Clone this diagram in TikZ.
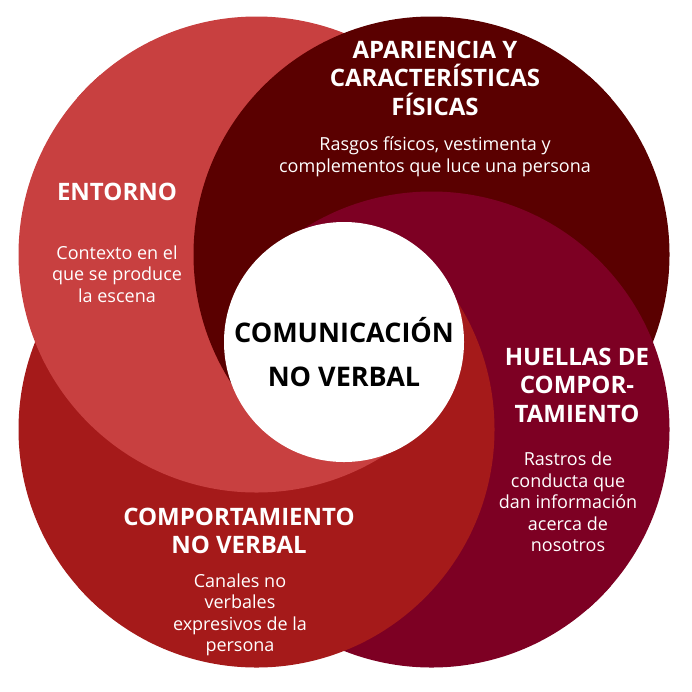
\documentclass[tikz,border=0pt]{standalone}
\usepackage{fontspec}
\setmainfont{Open Sans}
\definecolor{colE}{HTML}{C84040}
\definecolor{colA}{HTML}{5A0000}
\definecolor{colH}{HTML}{7D0023}
\definecolor{colC}{HTML}{A51A1A}
\newcommand\cirE{\fill[colE] (cE) circle[radius=238];}
\newcommand\cirA{\fill[colA] (cA) circle[radius=238];}
\newcommand\cirC{\fill[colC] (cC) circle[radius=238];}
\newcommand\cirH{\fill[colH] (cH) circle[radius=238];}
\tikzset{
  title/.style={text=white, align=center, font=\bfseries\fontsize{24}{28.5}\selectfont, inner sep=0pt},
  body/.style={text=white, align=center, font=\fontsize{18}{21.5}\selectfont, inner sep=0pt},
  core/.style={text=black, align=center, font=\bfseries\fontsize{27}{44}\selectfont, inner sep=0pt}
}
\begin{document}
\begin{tikzpicture}[x=1pt,y=-1pt]
\useasboundingbox (0,0) rectangle (692,691);
\fill[white] (0,0) rectangle (692,691);
\coordinate (O) at (344,342);
\coordinate (cE) at (256.5,254.5);
\coordinate (cA) at (431.5,254.5);
\coordinate (cC) at (256.5,429.5);
\coordinate (cH) at (431.5,429.5);
% top wedge: C, E, A, H
\begin{scope}
  \clip (O) -- (1450,-671) -- (-762,-671) -- cycle;
  \begin{scope}[transparency group]
  \cirC \cirE \cirA \cirH
  \end{scope}
\end{scope}
% right wedge: E, A, H, C
\begin{scope}
  \clip (O) -- (1357,-764) -- (1357,1448) -- cycle;
  \begin{scope}[transparency group]
  \cirE \cirA \cirH \cirC
  \end{scope}
\end{scope}
% bottom wedge: A, H, C, E
\begin{scope}
  \clip (O) -- (1450,1355) -- (-762,1355) -- cycle;
  \begin{scope}[transparency group]
  \cirA \cirH \cirC \cirE
  \end{scope}
\end{scope}
% left wedge: H, C, E, A
\begin{scope}
  \clip (O) -- (-669,-764) -- (-669,1448) -- cycle;
  \begin{scope}[transparency group]
  \cirH \cirC \cirE \cirA
  \end{scope}
\end{scope}
\fill[white] (O) circle[radius=120];
\node[core] (core) at (344,352) {COMUNICACIÓN\\NO VERBAL};
\node[title] (tA) at (435,78) {APARIENCIA Y\\CARACTERÍSTICAS\\FÍSICAS};
\node[body] (bA) at (435,157) {Rasgos físicos, vestimenta y\\complementos que luce una persona};
\node[title] (tE) at (117,192) {ENTORNO};
\node[body] (bE) at (117,274) {Contexto en el\\que se produce\\la escena};
\node[title] (tH) at (577,385) {HUELLAS DE\\COMPOR-\\TAMIENTO};
\node[body] (bH) at (568,502) {Rastros de\\conducta que\\dan información\\acerca de\\nosotros};
\node[title] (tC) at (239,531) {COMPORTAMIENTO\\NO VERBAL};
\node[body] (bC) at (240,615) {Canales no\\verbales\\expresivos de la\\persona};
\end{tikzpicture}
\end{document}
